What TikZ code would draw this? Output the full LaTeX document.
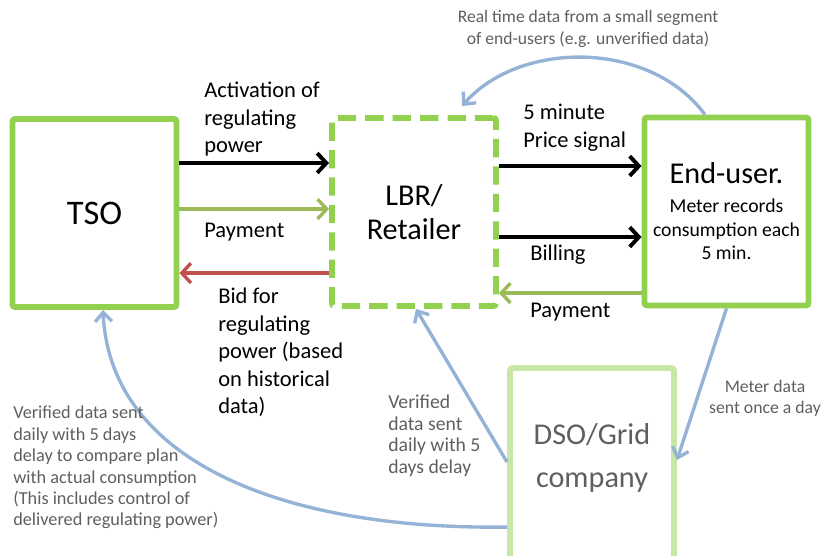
\documentclass[tikz,border=0pt]{standalone}
\usepackage{fontspec}
\setmainfont{Carlito}
\usetikzlibrary{arrows.meta,positioning}

\definecolor{boxgreen}{RGB}{146,208,80}
\definecolor{gridgreen}{RGB}{200,230,165}
\definecolor{paygreen}{RGB}{155,187,89}
\definecolor{bidred}{RGB}{192,80,77}
\definecolor{datablue}{RGB}{149,179,215}
\definecolor{textgrey}{RGB}{95,95,95}

\tikzset{
	actor/.style={draw=boxgreen, line width=4.2pt, rounded corners=2pt, align=center,
		minimum width=4.1cm, minimum height=4.7cm},
	retailer/.style={actor, dash pattern=on 13pt off 6.5pt},
	grid/.style={actor, draw=gridgreen, text=textgrey, minimum height=4.8cm},
	flow/.style={line width=2.8pt, -{Straight Barb[length=6.5pt,width=14pt]}},
	money/.style={flow, draw=paygreen, line width=2.4pt},
	bid/.style={flow, draw=bidred, line width=2.4pt},
	datalink/.style={draw=datablue, line width=2.4pt, -{Straight Barb[length=6.5pt,width=12pt]}},
	lbl/.style={anchor=north west, inner sep=0pt, align=left, font=\fontsize{16}{19.5}\selectfont},
	note/.style={lbl, text=textgrey, font=\fontsize{13}{15.2}\selectfont},
}

\begin{document}
\begin{tikzpicture}[x=0.025cm, y=-0.025cm]
	\useasboundingbox (0,0) rectangle (824,556);

	% the four parties
	\node (TSO) [actor, font=\fontsize{24.5}{29}\selectfont] at (94.5,213) {TSO};
	\node (LBR) [retailer, font=\fontsize{21.5}{24.5}\selectfont] at (414,212) {LBR/\\Retailer};
	\node (EU) [actor, font=\fontsize{14}{16.7}\selectfont] at (726.5,211.5) {{\fontsize{21.5}{25}\selectfont End-user.}\\[4pt]
		Meter records\\consumption each\\5 min.};
	\node (DSO) [grid, font=\fontsize{21.5}{30.5}\selectfont, text depth=12pt] at (592,464) {DSO/Grid\\company};

	% TSO <-> LBR
	\draw[flow] ([yshift=-1.175cm]TSO.north east) to ([yshift=-1.175cm]TSO.north east -| LBR.west);
	\draw[money] ([yshift=-2.325cm]TSO.north east) to ([yshift=-2.325cm]TSO.north east -| LBR.west);
	\draw[bid] ([yshift=-3.925cm]TSO.north east -| LBR.west) to ([yshift=-3.925cm]TSO.north east);
	\node (act) [lbl] at (204,82) {Activation of\\regulating\\power};
	\node (pay1) [lbl] at (204,223) {Payment};
	\node (bidtxt) [lbl] at (218,288) {Bid for\\regulating\\power (based\\on historical\\data)};

	% LBR <-> end-user
	\draw[flow] ([yshift=-1.275cm]LBR.north east) to ([yshift=-1.275cm]LBR.north east -| EU.west);
	\draw[flow] ([yshift=-3.05cm]LBR.north east) to ([yshift=-3.05cm]LBR.north east -| EU.west);
	\draw[money] ([yshift=-4.45cm]LBR.north east -| EU.west) to ([yshift=-4.45cm]LBR.north east);
	\node (price) [lbl] at (523,104) {5 minute\\Price signal};
	\node (bill) [lbl] at (530,245) {Billing};
	\node (pay2) [lbl] at (530,303) {Payment};

	% metering data
	\draw[datalink] ([xshift=-0.54cm]EU.north) .. controls (650,40) and (520,40) .. ([xshift=1.2cm,yshift=0.225cm]LBR.north);
	\node (rt) [note, anchor=north, align=center, font=\fontsize{12.5}{16}\selectfont] at (588,10) {Real time data from a small segment\\of end-users (e.g. unverified data)};
	\draw[datalink] (EU.south) to ([yshift=-2.375cm]DSO.north east);
	\node (meter) [note, anchor=north, align=center, font=\fontsize{12.6}{15.2}\selectfont] at (765,380) {Meter data\\sent once a day};
	\draw[datalink] ([yshift=-2.425cm]DSO.north west) to ([xshift=0.05cm]LBR.south);
	\node (ver1) [note, font=\fontsize{14}{15.2}\selectfont] at (388,395) {Verified\\data sent\\daily with 5\\days delay};
	\draw[datalink] ([yshift=-4.05cm]DSO.north west) .. controls (280,530) and (110,460) .. ([xshift=0.2125cm]TSO.south);
	\node (ver2) [note] at (13,406) {Verified data sent\\daily with 5 days\\delay to compare plan\\with actual consumption\\(This includes control of\\delivered regulating power)};
\end{tikzpicture}
\end{document}
